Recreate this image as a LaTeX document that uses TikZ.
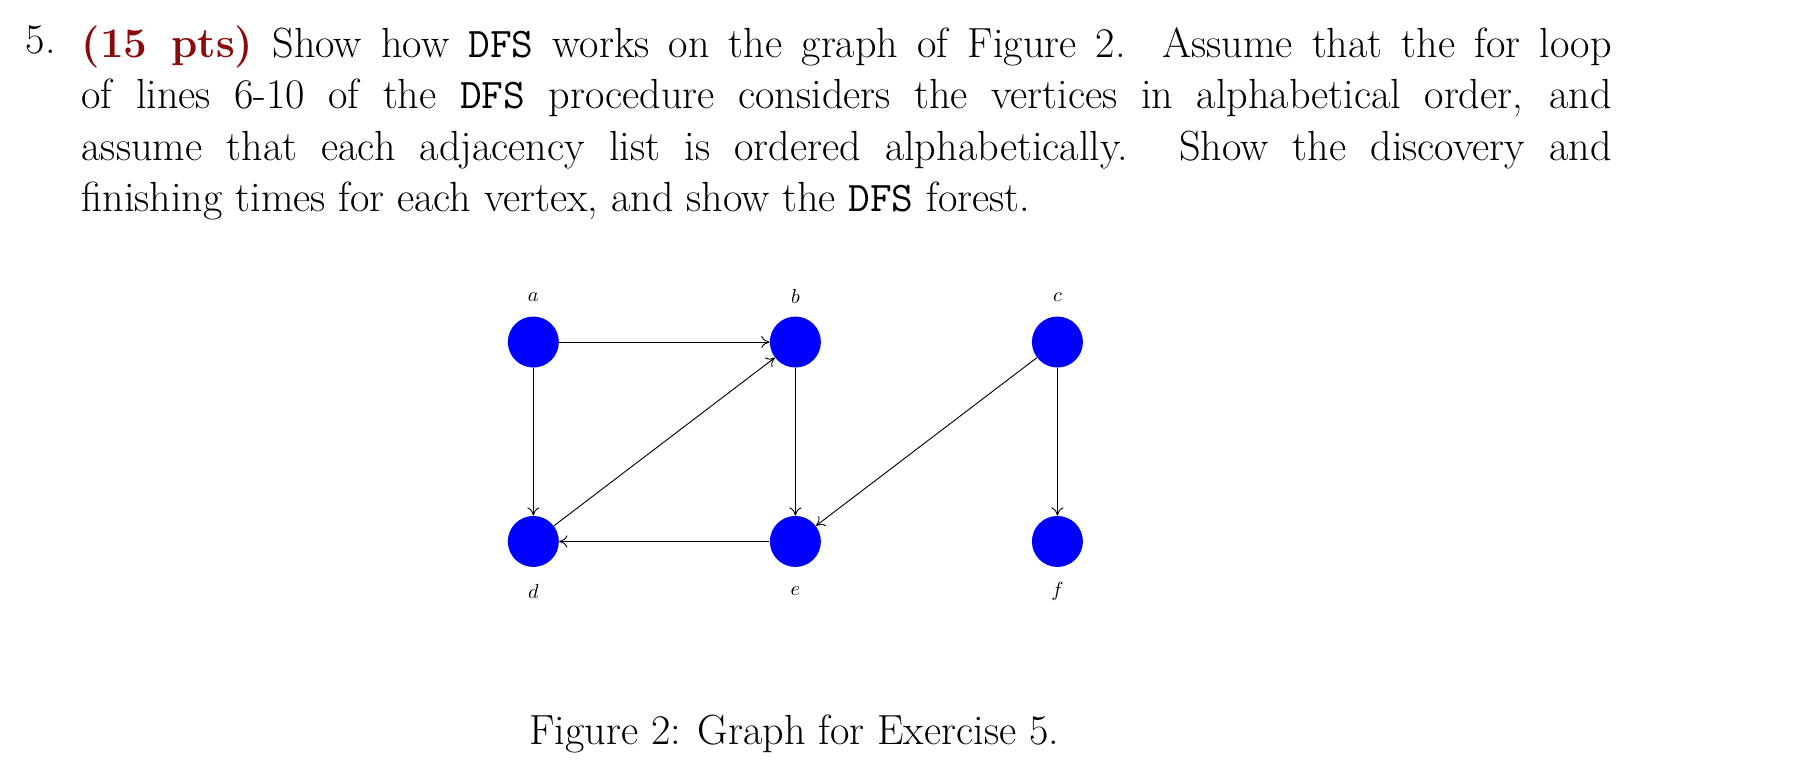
\documentclass[tikz,border=0pt]{standalone}
\usetikzlibrary{arrows.meta}
\definecolor{ptsred}{HTML}{8B0A0A}
\begin{document}
\begin{tikzpicture}[x=0.02cm,y=-0.02cm,
  vert/.style={circle,fill=blue,minimum size=0.88cm,inner sep=0pt},
  lbl/.style={font=\fontsize{10}{12}\selectfont},
  edge/.style={-{To[length=4pt,width=6pt]},line width=0.45pt}]
\useasboundingbox (0,0) rectangle (1568,676);
\node[anchor=north west,inner sep=0pt,font=\fontsize{20.7}{25.2}\selectfont] (num) at (22,22) {5.};
\node[anchor=north west,inner sep=0pt,text width=26.4cm,align=justify,font=\fontsize{20.7}{25.2}\selectfont] (txt) at (70,22)
{{\color{ptsred}\bfseries (15 pts)} Show how \texttt{DFS} works on the graph of Figure 2. Assume that the for loop\linebreak
of lines 6-10 of the \texttt{DFS} procedure considers the vertices in alphabetical order, and\linebreak
assume that each adjacency list is ordered alphabetically. Show the discovery and\linebreak
finishing times for each vertex, and show the \texttt{DFS} forest.};
\node[vert] (a) at (460,295) {};
\node[vert] (b) at (686,295) {};
\node[vert] (c) at (912,295) {};
\node[vert] (d) at (460,467) {};
\node[vert] (e) at (686,467) {};
\node[vert] (f) at (912,467) {};
\node[lbl] (la) at (460,256) {$a$};
\node[lbl] (lb) at (686,256) {$b$};
\node[lbl] (lc) at (912,256) {$c$};
\node[lbl] (ld) at (460,510) {$d$};
\node[lbl] (le) at (686,510) {$e$};
\node[lbl] (lf) at (912,510) {$f$};
\draw[edge] (a) -- (b);
\draw[edge] (a) -- (d);
\draw[edge] (d) -- (b);
\draw[edge] (b) -- (e);
\draw[edge] (e) -- (d);
\draw[edge] (c) -- (e);
\draw[edge] (c) -- (f);
\node[font=\fontsize{20.7}{25}\selectfont] (cap) at (685,633) {Figure 2: Graph for Exercise 5.};
\end{tikzpicture}
\end{document}
